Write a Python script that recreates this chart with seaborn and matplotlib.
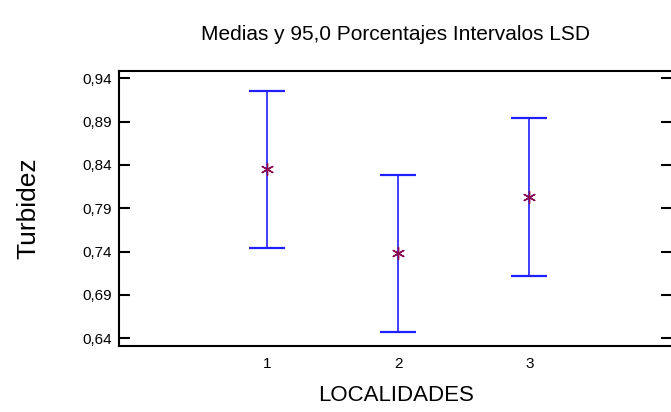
import matplotlib
matplotlib.use("Agg")
import matplotlib.pyplot as plt
import seaborn as sns
import pandas as pd

# Group means and LSD half-widths for turbidity by locality
localidades = [1, 2, 3]
medias = [0.835, 0.738, 0.803]
semiancho = [0.091, 0.091, 0.091]
yticks = [0.64, 0.69, 0.74, 0.79, 0.84, 0.89, 0.94]
ytick_labels = ["0,64", "0,69", "0,74", "0,79", "0,84", "0,89", "0,94"]

df = pd.DataFrame({"LOCALIDADES": localidades, "Turbidez": medias, "lsd": semiancho})

sns.set_style("white")
plt.rcParams["font.family"] = ["Liberation Sans", "DejaVu Sans"]
plt.rcParams["text.color"] = "black"
plt.rcParams["axes.labelcolor"] = "black"
plt.rcParams["xtick.color"] = "black"
plt.rcParams["ytick.color"] = "black"

fig = plt.figure(figsize=(6.71, 4.12), dpi=100)
ax = fig.add_axes([0.1775, 0.1614, 0.8245, 0.6670])

ax.errorbar(df["LOCALIDADES"], df["Turbidez"], yerr=df["lsd"], fmt="none",
            ecolor="#1f1fff", elinewidth=1.2, capsize=13, capthick=1.6, zorder=2)
sns.scatterplot(data=df, x="LOCALIDADES", y="Turbidez", ax=ax, marker=(6, 2, 0),
                s=75, color="#8b0a50", linewidth=1.0, zorder=3)

ax.set_xlim(-0.125, 4.09)
ax.set_ylim(0.6315, 0.9489)
ax.set_xticks(localidades)
ax.set_xticklabels([str(v) for v in localidades], fontsize=11)
ax.set_yticks(yticks)
ax.set_yticklabels(ytick_labels, fontsize=11)
ax.tick_params(axis="x", length=0, pad=8)
ax.tick_params(axis="y", direction="in", length=8, width=1.5, right=True, left=True, pad=5)

for side in ["left", "top", "bottom", "right"]:
    ax.spines[side].set_visible(True)
    ax.spines[side].set_color("black")
    ax.spines[side].set_linewidth(1.5)

ax.set_xlabel("LOCALIDADES", fontsize=16, labelpad=10)
ax.set_ylabel("Turbidez", fontsize=19, labelpad=30)
ax.set_title("Medias y 95,0 Porcentajes Intervalos LSD", fontsize=15, pad=22)

fig.savefig("out.png", dpi=100)
